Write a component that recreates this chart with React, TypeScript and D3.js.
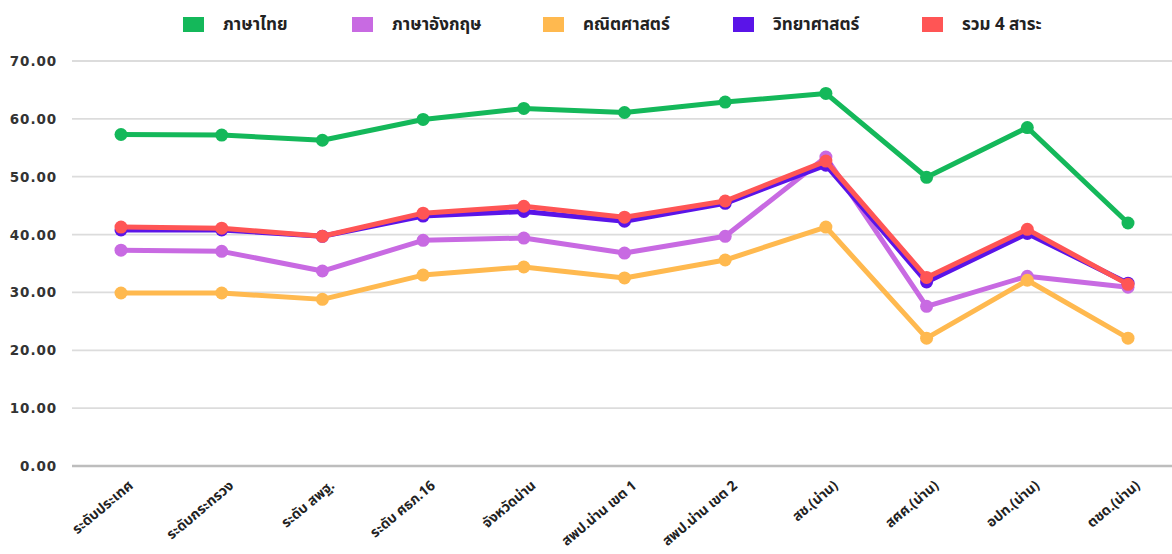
import React from "react";
import * as d3 from "d3";

const categories = [
  "ระดับประเทศ",
  "ระดับกระทรวง",
  "ระดับ สพฐ.",
  "ระดับ ศธภ.16",
  "จังหวัดน่าน",
  "สพป.น่าน เขต 1",
  "สพป.น่าน เขต 2",
  "สช.(น่าน)",
  "สศศ.(น่าน)",
  "อปท.(น่าน)",
  "ตชด.(น่าน)",
];

const thai = [57.3, 57.2, 56.3, 59.9, 61.8, 61.1, 62.9, 64.4, 49.9, 58.5, 42.0];
const english = [37.3, 37.1, 33.7, 39.0, 39.4, 36.8, 39.7, 53.4, 27.6, 32.8, 30.9];
const math = [29.9, 29.9, 28.8, 33.0, 34.4, 32.5, 35.6, 41.3, 22.1, 32.1, 22.1];
const science = [40.8, 40.8, 39.7, 43.2, 44.0, 42.3, 45.4, 52.0, 31.8, 40.2, 31.6];
const total = [41.3, 41.1, 39.7, 43.7, 44.9, 43.0, 45.8, 52.7, 32.6, 40.9, 31.4];

const seriesNames = ["ภาษาไทย", "ภาษาอังกฤษ", "คณิตศาสตร์", "วิทยาศาสตร์", "รวม 4 สาระ"];
const seriesColors = ["#14B85A", "#C86AE2", "#FFB94F", "#5A14E8", "#FF5555"];
const yTicks = [0, 10, 20, 30, 40, 50, 60, 70];

const W = 1172;
const H = 554;
const FONT_NUM = "'DejaVu Sans', sans-serif";
const FONT_THAI = "'Noto Sans Thai', 'Noto Sans', 'DejaVu Sans', sans-serif";

export default function App() {
  const data = [thai, english, math, science, total];
  const x = d3.scalePoint<string>().domain(categories).range([121, 1128]);
  const y = d3.scaleLinear().domain([0, 70]).range([466, 61]);
  const line = d3
    .line<number>()
    .x((_, i) => x(categories[i]) as number)
    .y((d) => y(d));

  const legendX = [183, 352, 543, 733, 922];

  return (
    <svg
      width={W}
      height={H}
      style={{ position: "absolute", left: 0, top: 0, background: "#fff" }}
    >
      {/* legend */}
      {seriesNames.map((n, i) => (
        <g key={n} transform={`translate(${legendX[i]},17)`}>
          <rect width={21} height={15} fill={seriesColors[i]} />
          <text
            x={40}
            y={13}
            fontFamily={FONT_THAI}
            fontSize={17}
            fontWeight={700}
            fill="#222"
          >
            {n}
          </text>
        </g>
      ))}

      {/* grid */}
      {yTicks.map((t) => (
        <g key={t}>
          <line
            x1={72}
            x2={W}
            y1={y(t)}
            y2={y(t)}
            stroke={t === 0 ? "#bdbdbd" : "#dcdcdc"}
            strokeWidth={t === 0 ? 2.5 : 1.8}
          />
          <text
            x={57}
            y={y(t) + 5}
            textAnchor="end"
            fontFamily={FONT_NUM}
            fontWeight={700}
            fontSize={13.5}
            letterSpacing={0.9}
            fill="#333"
          >
            {t.toFixed(2)}
          </text>
        </g>
      ))}

      {/* x labels */}
      {categories.map((c) => (
        <text
          key={c}
          transform={`translate(${(x(c) as number) + 13},487) rotate(-40)`}
          textAnchor="end"
          fontFamily={FONT_THAI}
          fontSize={14}
          fontWeight={700}
          fill="#222"
        >
          {c}
        </text>
      ))}

      {/* series */}
      {data.map((s, i) => (
        <g key={i}>
          <path
            d={line(s) || ""}
            fill="none"
            stroke={seriesColors[i]}
            strokeWidth={5}
            strokeLinejoin="round"
          />
          {s.map((v, j) => (
            <circle
              key={j}
              cx={x(categories[j]) as number}
              cy={y(v)}
              r={6.5}
              fill={seriesColors[i]}
            />
          ))}
        </g>
      ))}
    </svg>
  );
}
